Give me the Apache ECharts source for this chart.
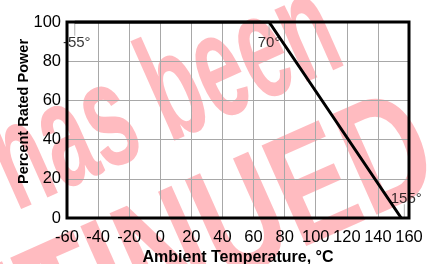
<!DOCTYPE html>
<html>
<head>
<meta charset="utf-8">
<script src="https://cdn.jsdelivr.net/npm/echarts@6/dist/echarts.min.js"></script>
<style>
  html, body { margin: 0; padding: 0; background: #fff; }
  #chart { width: 433px; height: 264px; }
</style>
</head>
<body>
<div id="chart"></div>
<script>
// derating curve: temperature (°C) vs percent rated power
var tempPoints = [-55, 70, 155];
var powerPoints = [100, 100, 0];
var labelTexts = ['-55°', '70°', '155°'];
var xTicks = [-60, 160, 20];
var yTicks = [0, 100, 20];

var curve = tempPoints.map(function (t, i) { return [t, powerPoints[i]]; });
// short leader ticks under the temperature labels
var leaders = [
  [[-55, 100], [-55, 93]],
  [[70, 100], [70, 93]],
  [[157, 0], [157, 7]]
];

var chart = echarts.init(document.getElementById('chart'));
var font = '"Liberation Sans", Arial, Helvetica, sans-serif';
var pink = 'rgba(255,50,65,0.33)';
var tilt = 24 * Math.PI / 180;

var leaderSeries = leaders.map(function (seg) {
  return {
    type: 'line', data: seg, symbol: 'none', silent: true,
    lineStyle: { color: '#b0b0b0', width: 1 }, z: 3
  };
});

chart.setOption({
  animation: false,
  grid: { left: 67, right: 24, top: 22, bottom: 46, outerBoundsMode: 'none' },
  xAxis: {
    type: 'value',
    min: xTicks[0], max: xTicks[1], interval: xTicks[2],
    name: 'Ambient Temperature, °C',
    nameLocation: 'middle', nameGap: 32, nameMoveOverlap: false,
    nameTextStyle: { fontFamily: font, fontWeight: 'bold', fontSize: 16, color: '#000' },
    axisLine: { show: false },
    axisTick: { show: false },
    axisLabel: { fontFamily: font, fontSize: 16.5, color: '#000', margin: 11 },
    splitLine: { show: true, lineStyle: { color: '#a8a8a8', width: 1 } }
  },
  yAxis: {
    type: 'value',
    min: yTicks[0], max: yTicks[1], interval: yTicks[2],
    name: 'Percent Rated Power',
    nameLocation: 'middle', nameGap: 36, nameMoveOverlap: false,
    nameTextStyle: { fontFamily: font, fontWeight: 'bold', fontSize: 14.5, color: '#000',
      padding: [0, 0, 0, 17] },
    axisLine: { show: false },
    axisTick: { show: false },
    axisLabel: { fontFamily: font, fontSize: 16.5, color: '#000', margin: 6 },
    splitLine: { show: true, lineStyle: { color: '#a8a8a8', width: 1 } }
  },
  series: leaderSeries.concat([
    {
      type: 'line',
      data: curve,
      symbol: 'none',
      lineStyle: { color: '#000', width: 3 },
      z: 5
    },
    {
      type: 'scatter',
      symbolSize: 0,
      data: curve.map(function (p, i) {
        var below = p[1] === 100;
        return {
          value: p,
          label: {
            show: true,
            formatter: labelTexts[i],
            position: below ? 'bottom' : 'top',
            offset: i === 0 ? [2, 8] : (i === 1 ? [0, 8] : [5, -7])
          }
        };
      }),
      label: { fontFamily: font, fontSize: 15, color: '#000' },
      z: 6
    }
  ])
});

// watermark behind, thick plot frame on top
var rect = chart.getModel().getComponent('grid').coordinateSystem.getRect();
chart.setOption({
  graphic: [
    {
      type: 'text', z: -10,
      x: 362, y: 94,
      rotation: tilt, scaleX: 0.56,
      style: {
        text: 'This product has been',
        font: 'bold 150px ' + font,
        fill: pink, align: 'right', verticalAlign: 'bottom'
      }
    },
    {
      type: 'text', z: -10,
      x: 460, y: 217,
      rotation: tilt, scaleX: 0.72,
      style: {
        text: 'DISCONTINUED',
        font: 'bold 160px ' + font,
        fill: pink, align: 'right', verticalAlign: 'bottom'
      }
    },
    {
      type: 'rect', z: 20,
      shape: { x: rect.x, y: rect.y, width: rect.width, height: rect.height },
      style: { fill: null, stroke: '#000', lineWidth: 3 }
    }
  ]
});
</script>
</body>
</html>
